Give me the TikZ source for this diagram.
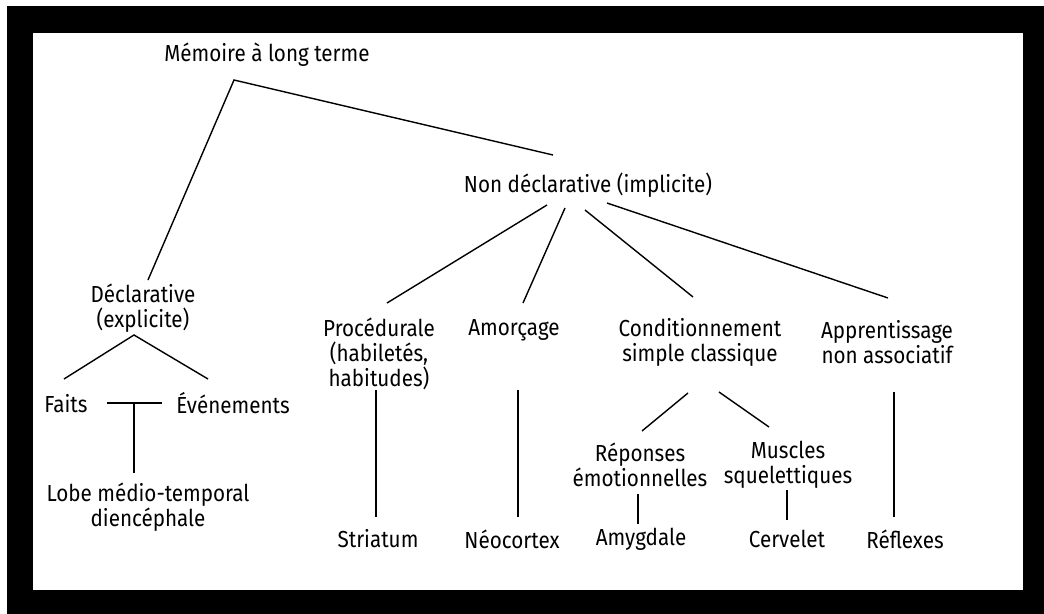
\documentclass[tikz,border=0pt]{standalone}
\usepackage{fontspec}
\setmainfont{Fira Sans}[FakeStretch=0.89]
\usetikzlibrary{calc}

\begin{document}
\begin{tikzpicture}[x=0.25mm,y=-0.25mm,line width=1pt]

    \tikzstyle{every node}=[inner sep=0pt,align=center,font=\fontsize{16.5}{17.8}\selectfont]

    % frame
    \fill[white] (0,0) rectangle (1044,614);
    \fill[black] (7,6) rectangle (1044,614);
    \fill[white] (33,33) rectangle (1023,590);

    \node (mlt)       at (267,55)  {Mémoire à long terme};
    \node (nondecl)   at (588,185) {Non déclarative (implicite)};
    \node (decl)      at (143,308) {Déclarative\\(explicite)};
    \node (faits)     at (66,404)  {Faits};
    \node (even)      at (233,403) {Événements};
    \node (lobe)      at (148,507) {Lobe médio-temporal\\diencéphale};
    \node (proc)      at (379,354) {Procédurale\\(habiletés,\\habitudes)};
    \node (amorc)     at (514,330) {Amorçage};
    \node (cond)      at (700,342) {Conditionnement\\simple classique};
    \node (appr)      at (887,342) {Apprentissage\\non associatif};
    \node (rep)       at (640,465) {Réponses\\émotionnelles};
    \node (musc)      at (788,465) {Muscles\\squelettiques};
    \node (striatum)  at (378,539) {Striatum};
    \node (neocortex) at (512,539) {Néocortex};
    \node (amygdale)  at (641,539) {Amygdale};
    \node (cervelet)  at (787,539) {Cervelet};
    \node (reflexes)  at (905,539) {Réflexes};

    \coordinate (mlt-fork)  at ($(mlt)+(-33,25)$);
    \coordinate (decl-fork) at ($(decl)+(-9,27)$);

    % declarative / non declarative
    \draw ($(decl)+(5,-28)$) -- (mlt-fork) -- ($(nondecl)+(-35,-30)$);
    \draw ($(faits)+(-2,-25)$) -- (decl-fork) -- ($(even)+(-25,-24)$);
    \draw ($(faits)+(41,-1)$) -- ($(even)+(-71,0)$);
    \draw (decl-fork |- even) -- ($(decl-fork |- lobe)+(0,-34)$);

    \draw ($(nondecl)+(-41,20)$) -- ($(proc)+(8,-51)$);
    \draw ($(nondecl)+(-23,23)$) -- ($(amorc)+(9,-27)$);
    \draw ($(nondecl)+(-3,25)$)  -- ($(cond)+(-7,-45)$);
    \draw ($(nondecl)+(19,18)$)  -- ($(appr)+(1,-44)$);

    % structures
    \draw ($(proc)+(-3,36)$)  -- ($(striatum)+(-2,-22)$);
    \draw ($(amorc)+(4,60)$)  -- ($(neocortex)+(6,-22)$);
    \draw ($(cond)+(-12,51)$) -- ($(rep)+(2,-34)$);
    \draw ($(cond)+(19,50)$)  -- ($(musc)+(-19,-38)$);
    \draw ($(rep)+(-2,29)$)   -- ($(amygdale)+(-3,-15)$);
    \draw ($(musc)+(-1,25)$)  -- ($(cervelet)+(0,-19)$);
    \draw ($(appr)+(7,50)$)   -- ($(reflexes)+(-11,-22)$);

\end{tikzpicture}
\end{document}
